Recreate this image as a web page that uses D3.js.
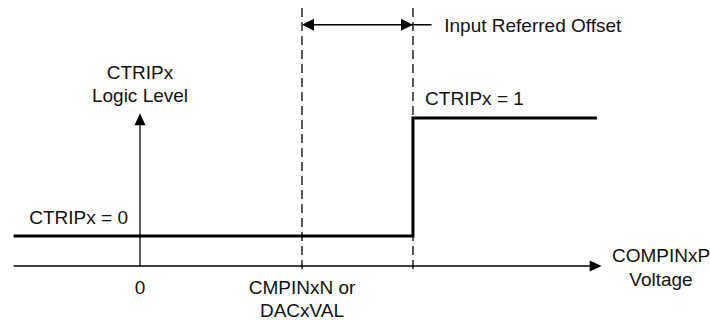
<!DOCTYPE html>
<html>
<head>
<meta charset="utf-8">
<script src="https://cdn.jsdelivr.net/npm/d3@7/dist/d3.min.js"></script>
<style>
  html, body { margin: 0; padding: 0; background: #fff; }
  svg { display: block; }
  text { font-family: "Liberation Sans", Arial, Helvetica, sans-serif; font-size: 19px; fill: #111; }
</style>
</head>
<body>
<div id="chart"></div>
<script>
// ---- data (abstract units: voltage 0 = origin, 1 = reference CMPINxN/DACxVAL; logic level 0/1)
const xTickValues = [0, 1];
const xTickLabels = [["0"], ["CMPINxN or", "DACxVAL"]];
const stepVoltage = [-0.78, 1.685, 1.685, 2.82];
const stepLevel = [0, 0, 1, 1];
const stepLabels = ["CTRIPx = 0", "CTRIPx = 1"];
const offsetBounds = [1, 1.685];          // reference and actual trip point
const offsetLabel = "Input Referred Offset";
const xAxisTitle = ["COMPINxP", "Voltage"];
const yAxisTitle = ["CTRIPx", "Logic Level"];
const xAxisExtent = [-0.78, 2.85];
const yAxisExtent = [-0.254, 1.04];

const W = 710, H = 320;
const svg = d3.select("#chart").append("svg").attr("width", W).attr("height", H);

const x = d3.scaleLinear().domain([0, 1]).range([140, 302]);
const y = d3.scaleLinear().domain([0, 1]).range([236, 118]);

const axisY = y(yAxisExtent[0]);
const axisX = x(0);

// dashed guide lines
const dashTop = y(1.932), dashBottom = y(-0.314);
svg.selectAll("line.guide").data(offsetBounds).join("line")
  .attr("class", "guide")
  .attr("x1", d => x(d)).attr("x2", d => x(d))
  .attr("y1", dashTop).attr("y2", dashBottom)
  .attr("stroke", "#000").attr("stroke-width", 1.3)
  .attr("stroke-dasharray", "9,5");

// x axis
svg.append("line")
  .attr("x1", x(xAxisExtent[0])).attr("x2", x(xAxisExtent[1]) - 10)
  .attr("y1", axisY).attr("y2", axisY)
  .attr("stroke", "#000").attr("stroke-width", 1.5);
const xTip = x(xAxisExtent[1]);
svg.append("path")
  .attr("d", `M${xTip},${axisY}L${xTip - 12},${axisY - 5.5}L${xTip - 12},${axisY + 5.5}Z`)
  .attr("fill", "#000");

// y axis
const yTip = y(yAxisExtent[1]);
svg.append("line")
  .attr("x1", axisX).attr("x2", axisX)
  .attr("y1", axisY).attr("y2", yTip + 10)
  .attr("stroke", "#000").attr("stroke-width", 1.3);
svg.append("path")
  .attr("d", `M${axisX},${yTip}L${axisX - 5.5},${yTip + 12}L${axisX + 5.5},${yTip + 12}Z`)
  .attr("fill", "#000");

// step (transfer characteristic)
const stepData = stepVoltage.map((v, i) => [v, stepLevel[i]]);
svg.append("path")
  .datum(stepData)
  .attr("d", d3.line().x(d => x(d[0])).y(d => y(d[1])))
  .attr("fill", "none").attr("stroke", "#000").attr("stroke-width", 3)
  .attr("stroke-linejoin", "miter");

// double arrow for input referred offset
const arrowY = y(1.79);
const ax0 = x(offsetBounds[0]), ax1 = x(offsetBounds[1]);
svg.append("line")
  .attr("x1", ax0 + 8).attr("x2", x(1.8))
  .attr("y1", arrowY).attr("y2", arrowY)
  .attr("stroke", "#000").attr("stroke-width", 1.5);
svg.append("path")
  .attr("d", `M${ax0},${arrowY}L${ax0 + 12},${arrowY - 6}L${ax0 + 12},${arrowY + 6}Z`)
  .attr("fill", "#000");
svg.append("path")
  .attr("d", `M${ax1},${arrowY}L${ax1 - 12},${arrowY - 6}L${ax1 - 12},${arrowY + 6}Z`)
  .attr("fill", "#000");
svg.append("text")
  .attr("x", x(1.878)).attr("y", arrowY + 7)
  .text(offsetLabel);

// x tick labels
xTickValues.forEach((v, i) => {
  const t = svg.append("text").attr("text-anchor", "middle")
    .attr("x", x(v)).attr("y", 294);
  xTickLabels[i].forEach((line, j) => {
    t.append("tspan").attr("x", x(v)).attr("dy", j === 0 ? 0 : 23).text(line);
  });
});

// step labels
svg.append("text").attr("text-anchor", "end")
  .attr("x", x(-0.074)).attr("y", y(0) - 12)
  .text(stepLabels[0]);
svg.append("text").attr("text-anchor", "start")
  .attr("x", x(1.76)).attr("y", y(1) - 13)
  .text(stepLabels[1]);

// axis titles
const xt = svg.append("text").attr("text-anchor", "middle").attr("x", 661).attr("y", 262);
xAxisTitle.forEach((line, j) => xt.append("tspan").attr("x", 661).attr("dy", j === 0 ? 0 : 24).text(line));
const yt = svg.append("text").attr("text-anchor", "middle").attr("x", axisX).attr("y", 79);
yAxisTitle.forEach((line, j) => yt.append("tspan").attr("x", axisX).attr("dy", j === 0 ? 0 : 23).text(line));
</script>
</body>
</html>
